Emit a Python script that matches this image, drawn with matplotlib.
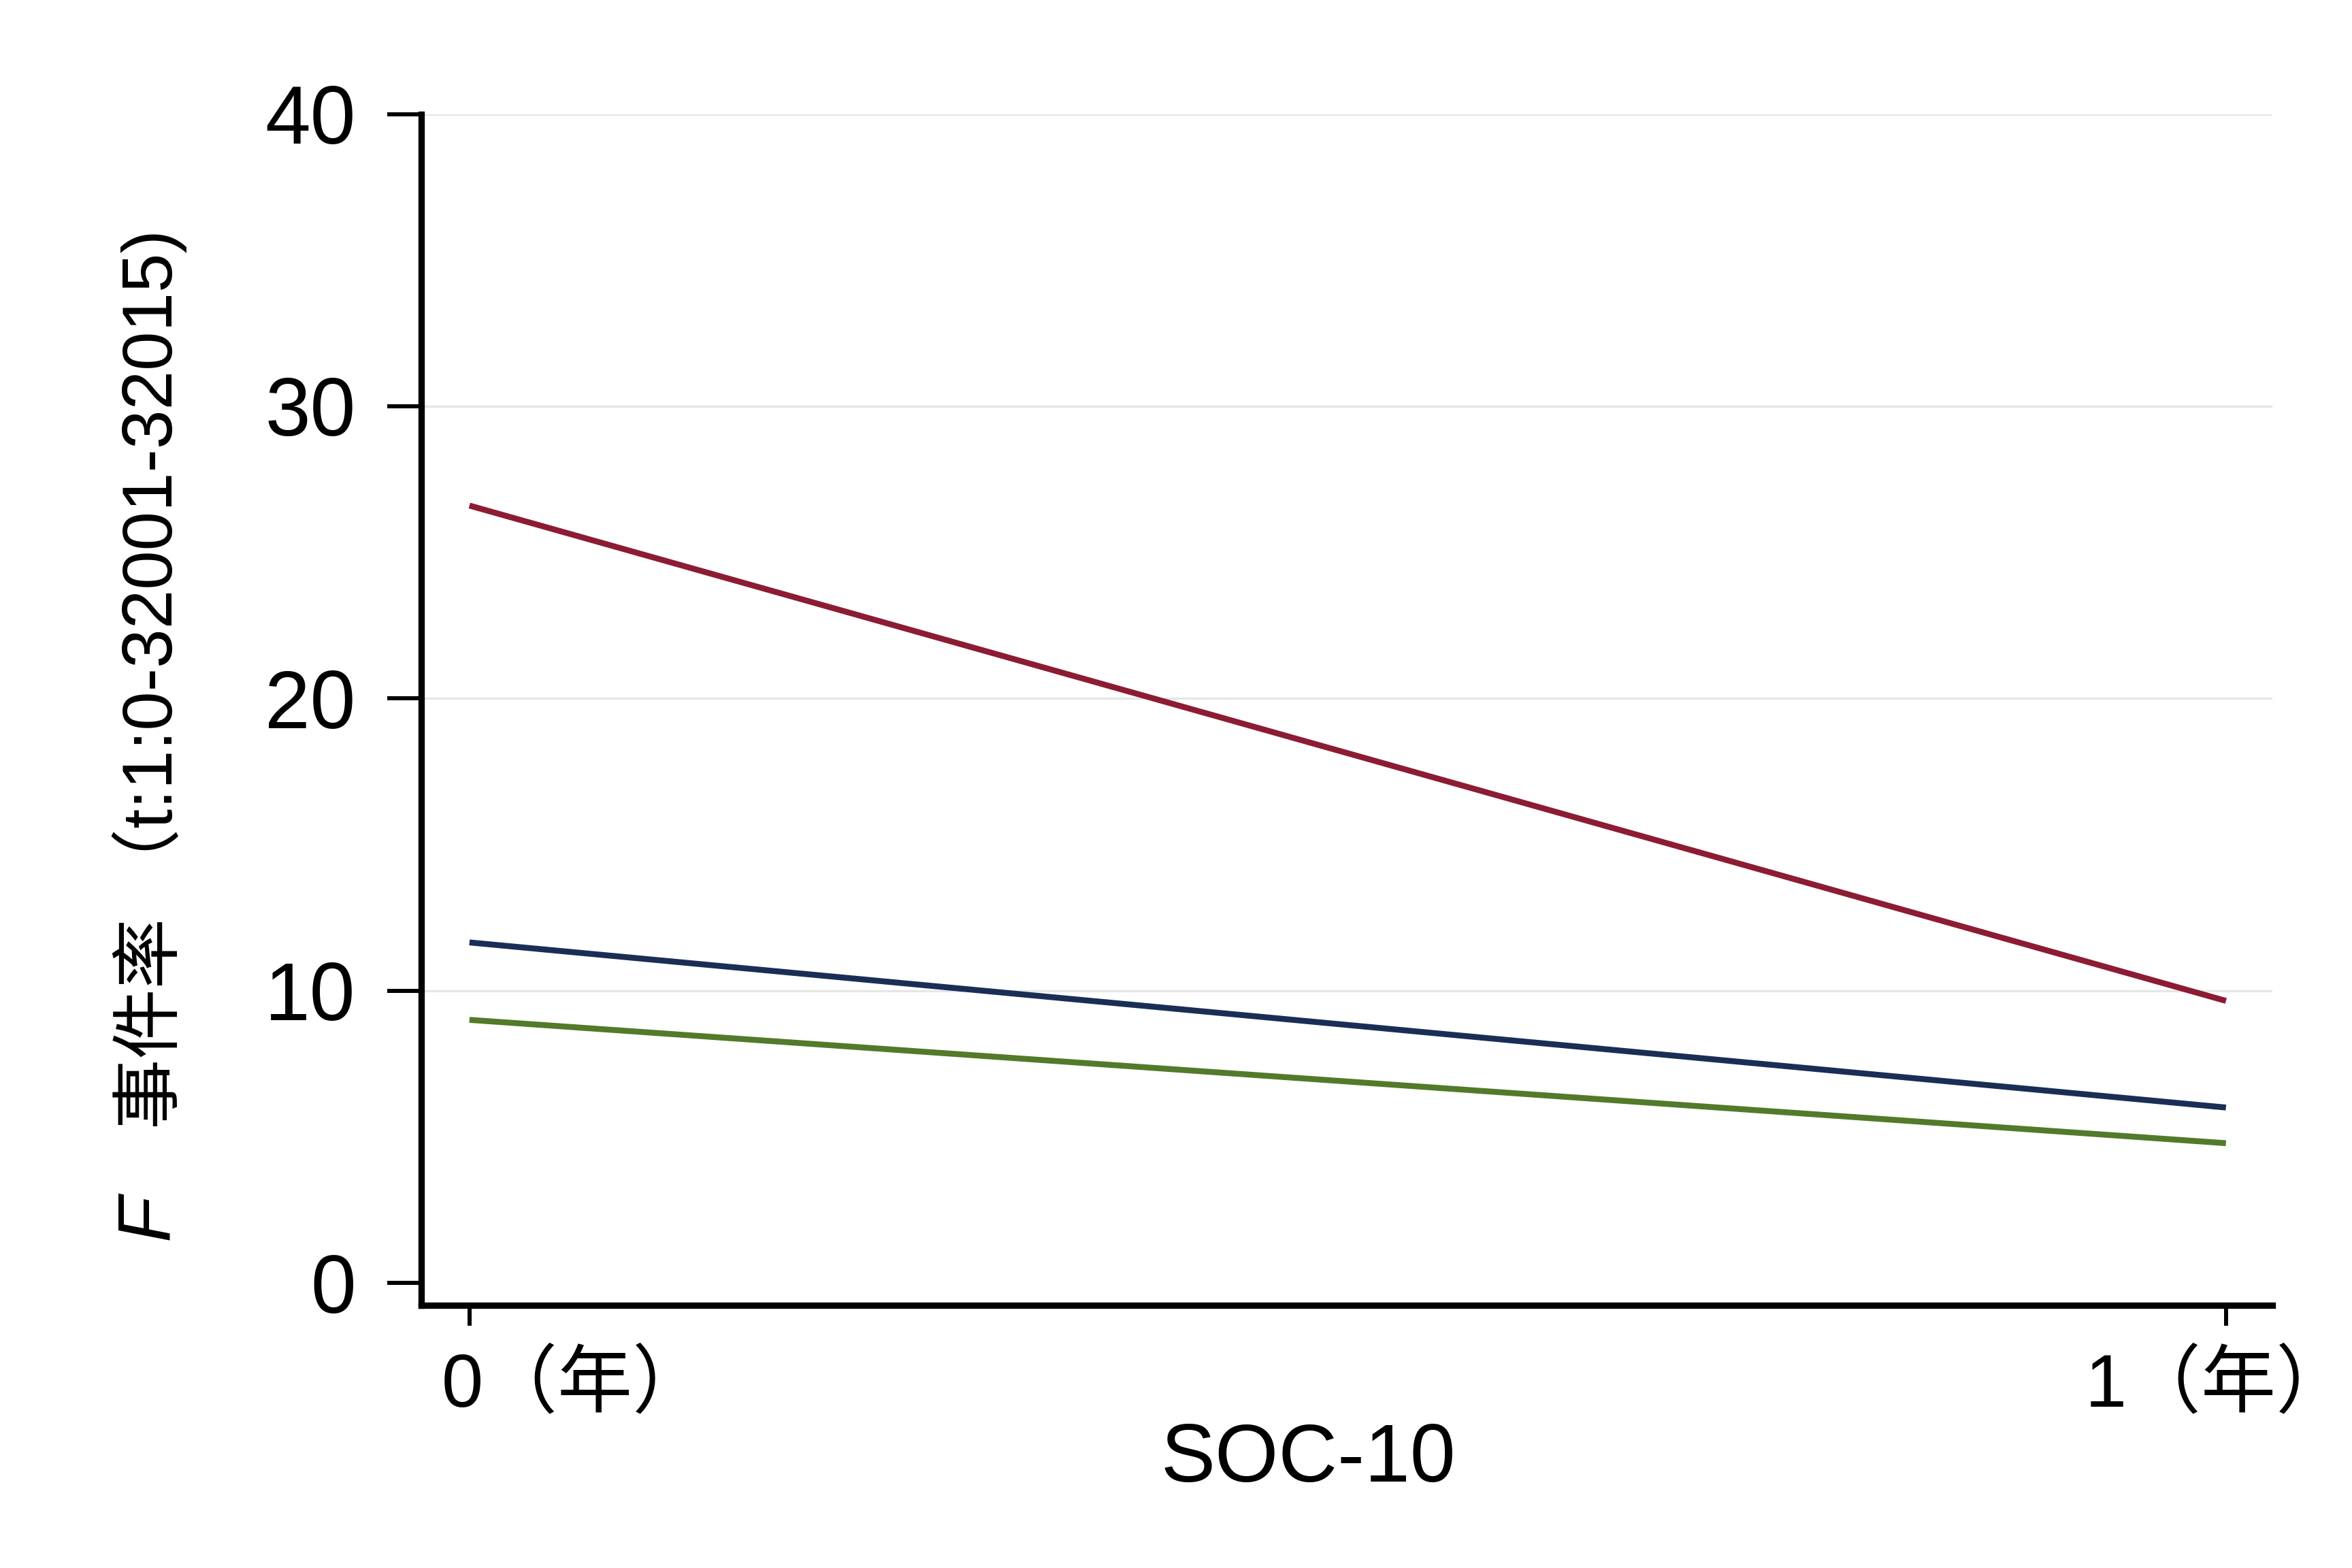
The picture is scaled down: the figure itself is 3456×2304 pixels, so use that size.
import matplotlib as mpl
mpl.use("Agg")
import matplotlib.pyplot as plt
import matplotlib.transforms as mtransforms

plt.rcParams['font.family'] = ['Liberation Sans', 'Noto Sans CJK SC', 'DejaVu Sans']

x = [0, 1]
xticklabels = ['0（年）', '1（年）']
red = [26.6, 9.65]
navy = [11.65, 6.0]
green = [9.0, 4.78]
yticks = [0, 10, 20, 30, 40]

fig = plt.figure(figsize=(14.4, 9.6), dpi=240)
ax = fig.add_axes([0.1792, 0.1675, 0.9662 - 0.1792, 0.9273 - 0.1675])

for v in [10, 20, 30, 40]:
  ax.axhline(v, color='#e6e6e6', lw=1.0, zorder=0)

ax.plot(x, red, color='#8c1c33', lw=2.6, solid_capstyle='butt')
ax.plot(x, navy, color='#1a2e55', lw=2.6, solid_capstyle='butt')
ax.plot(x, green, color='#527a2a', lw=2.6, solid_capstyle='butt')

ax.set_xlim(-0.0273, 1.0265)
ax.set_ylim(-0.77, 40.0)
ax.set_yticks(yticks)
ax.set_xticks(x)
ax.set_xticklabels(xticklabels)

for s in ['top', 'right']:
  ax.spines[s].set_visible(False)
for s in ['left', 'bottom']:
  ax.spines[s].set_linewidth(2.8)
ax.tick_params(axis='y', length=15, width=1.8, labelsize=36, pad=14)
ax.tick_params(axis='x', length=9, width=1.8, labelsize=33, pad=11)

# first tick label starts slightly left of the tick, last one tucked in
labs = ax.get_xticklabels()
labs[0].set_horizontalalignment('left')
labs[0].set_transform(labs[0].get_transform() + mtransforms.ScaledTranslation(-0.17, 0, fig.dpi_scale_trans))
labs[1].set_transform(labs[1].get_transform() + mtransforms.ScaledTranslation(-0.05, 0, fig.dpi_scale_trans))

ax.set_xlabel('SOC-10', fontsize=36)
ax.xaxis.set_label_coords(0.479, -0.098)

ax.text(-0.147, 0.055, 'F', style='italic', rotation=90, fontsize=33,
        ha='center', va='bottom', transform=ax.transAxes)
ax.text(-0.147, 0.148, '事件率 （t:1:0-32001-32015)', rotation=90, fontsize=31,
        ha='center', va='bottom', transform=ax.transAxes)

fig.savefig('out.png', dpi=240)
